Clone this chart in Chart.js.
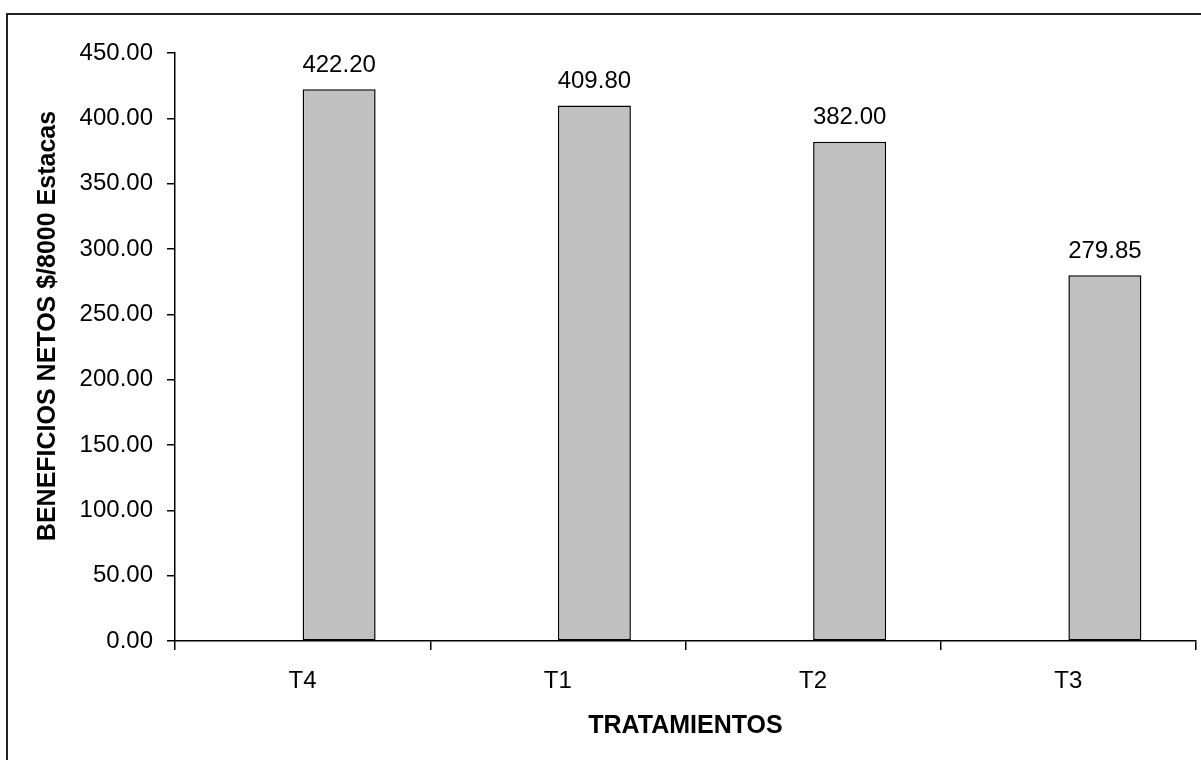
<!DOCTYPE html>
<html>
<head>
<meta charset="utf-8">
<script src="https://cdn.jsdelivr.net/npm/chart.js@4"></script>
<style>
    html, body { margin: 0; padding: 0; background: #fff; overflow: hidden; }
    #wrap { position: relative; width: 1201px; height: 760px; }
    #frame { position: absolute; left: 6px; top: 13px; width: 1300px; height: 900px; border: 2px solid #222; }
    #grafico { position: absolute; left: 0; top: 0; }
</style>
</head>
<body>
<div id="wrap">
    <div id="frame"></div>
    <canvas id="grafico" width="1201" height="760"></canvas>
</div>
<script>
const tratamientos = ['T4', 'T1', 'T2', 'T3'];
const serieVacia = [null, null, null, null]; // empty first series in the original sheet
const beneficios = [422.20, 409.80, 382.00, 279.85];
const tituloY = 'BENEFICIOS NETOS $/8000 Estacas';
const tituloX = 'TRATAMIENTOS';

const fuente = '"Liberation Sans", Arial, sans-serif';

// value labels above each bar + axis titles
const etiquetas = {
    id: 'etiquetas',
    afterDatasetsDraw(chart) {
        const ctx = chart.ctx;
        const meta = chart.getDatasetMeta(1);
        ctx.save();
        ctx.fillStyle = '#000';
        ctx.font = '24px ' + fuente;
        ctx.textAlign = 'center';
        ctx.textBaseline = 'middle';
        meta.data.forEach((bar, i) => {
            ctx.fillText(beneficios[i].toFixed(2), bar.x, bar.y - 24);
        });

        ctx.font = 'bold 25px ' + fuente;
        const area = chart.chartArea;
        ctx.fillText(tituloX, (area.left + area.right) / 2, 726);

        ctx.translate(48, 326);
        ctx.rotate(-Math.PI / 2);
        ctx.fillText(tituloY, 0, 0);
        ctx.restore();
    }
};

const ctx0 = document.getElementById('grafico').getContext('2d');
const grafico = new Chart(ctx0, {
    type: 'bar',
    data: {
        labels: tratamientos,
        datasets: [{
            label: 'vacia',
            data: serieVacia,
            backgroundColor: '#C0C0C0'
        }, {
            label: 'Beneficios',
            data: beneficios,
            backgroundColor: '#C0C0C0',
            borderColor: '#000',
            borderWidth: 1.5,
            borderSkipped: false
        }]
    },
    options: {
        responsive: false,
        animation: false,
        categoryPercentage: 0.572,
        barPercentage: 1.0,
        layout: {
            padding: { left: 0, right: 5, top: 53, bottom: 0 }
        },
        plugins: {
            legend: { display: false },
            tooltip: { enabled: false }
        },
        scales: {
            x: {
                afterFit: (s) => { s.height = 119; },
                grid: {
                    offset: true,
                    drawOnChartArea: false,
                    tickLength: 9,
                    color: '#000',
                    lineWidth: 1.5
                },
                border: { color: '#000', width: 1.5 },
                ticks: {
                    color: '#000',
                    padding: 17,
                    font: { family: fuente, size: 24 }
                }
            },
            y: {
                min: 0,
                max: 450,
                afterFit: (s) => { s.width = 175; },
                grid: {
                    drawOnChartArea: false,
                    tickLength: 8,
                    color: '#000',
                    lineWidth: 1.5
                },
                border: { color: '#000', width: 1.5 },
                ticks: {
                    stepSize: 50,
                    color: '#000',
                    padding: 14,
                    font: { family: fuente, size: 24 },
                    callback: (v) => Number(v).toFixed(2) // two decimals like the sheet
                }
            }
        }
    },
    plugins: [etiquetas]
});
</script>
</body>
</html>
